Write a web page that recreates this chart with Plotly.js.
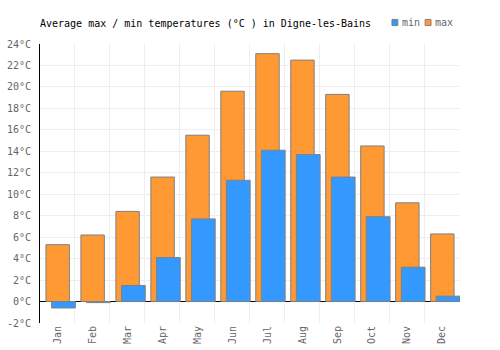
<!DOCTYPE html>
<html>
<head>
<meta charset="utf-8">
<script src="https://cdn.plot.ly/plotly-3.0.1.min.js"></script>
<style>html,body{margin:0;padding:0;background:#fff;}#chart{width:500px;height:350px;}</style>
</head>
<body>
<div id="chart"></div>
<script>
const months = ["Jan","Feb","Mar","Apr","May","Jun","Jul","Aug","Sep","Oct","Nov","Dec"];
const maxTemps = [5.3, 6.2, 8.4, 11.6, 15.5, 19.6, 23.1, 22.5, 19.3, 14.5, 9.2, 6.3];
const minTemps = [-0.6, -0.1, 1.5, 4.1, 7.7, 11.3, 14.1, 13.7, 11.6, 7.9, 3.2, 0.5];
const yTicks = [-2,0,2,4,6,8,10,12,14,16,18,20,22,24];

const font = "DejaVu Sans Mono, monospace";
const traces = [
  {type:"bar", name:"max", x:months, y:maxTemps, offset:-0.33, width:0.67,
   marker:{color:"#FF9933", line:{color:"#808080", width:1}}, hoverinfo:"none"},
  {type:"bar", name:"min", x:months, y:minTemps, offset:-0.17, width:0.68,
   marker:{color:"#3399FF", line:{color:"#808080", width:1}}, hoverinfo:"none"}
];
const layout = {
  width:500, height:350,
  margin:{l:40, r:40, t:44, b:27, pad:0},
  paper_bgcolor:"#fff", plot_bgcolor:"#fff",
  barmode:"overlay",
  showlegend:false,
  font:{family:font, size:10, color:"#666"},
  title:{text:"Average max / min temperatures (°C ) in Digne-les-Bains",
    x:0.08, xanchor:"left", xref:"container", y:0.934, yanchor:"middle",
    font:{family:font, size:10, color:"#000"}},
  xaxis:{type:"category", tickson:"boundaries", showgrid:true, gridcolor:"#eeeeee", gridwidth:1,
    ticks:"", tickangle:-90, tickfont:{family:font, size:10, color:"#666"},
    showline:false, zeroline:false, fixedrange:true},
  yaxis:{range:[-2,24], tickvals:yTicks, ticktext:yTicks.map(v=>v+"°C"),
    showgrid:true, gridcolor:"#eeeeee", gridwidth:1,
    zeroline:true, zerolinecolor:"#000", zerolinewidth:1,
    showline:true, linecolor:"#000", linewidth:1,
    ticks:"", ticklabelstandoff:6, tickfont:{family:font, size:10, color:"#666"}, fixedrange:true},
  shapes:[
    {type:"rect", xref:"paper", yref:"paper", x0:0.838, x1:0.852, y0:1.066, y1:1.088,
     fillcolor:"#3399FF", line:{color:"#808080", width:1}},
    {type:"rect", xref:"paper", yref:"paper", x0:0.917, x1:0.931, y0:1.066, y1:1.088,
     fillcolor:"#FF9933", line:{color:"#808080", width:1}}
  ],
  annotations:[
    {xref:"paper", yref:"paper", x:0.857, y:1.077, xanchor:"left", yanchor:"middle", showarrow:false,
     text:"min", font:{family:font, size:10, color:"#666"}},
    {xref:"paper", yref:"paper", x:0.936, y:1.077, xanchor:"left", yanchor:"middle", showarrow:false,
     text:"max", font:{family:font, size:10, color:"#666"}}
  ]
};
Plotly.newPlot("chart", traces, layout, {displayModeBar:false, staticPlot:true});
</script>
</body>
</html>
